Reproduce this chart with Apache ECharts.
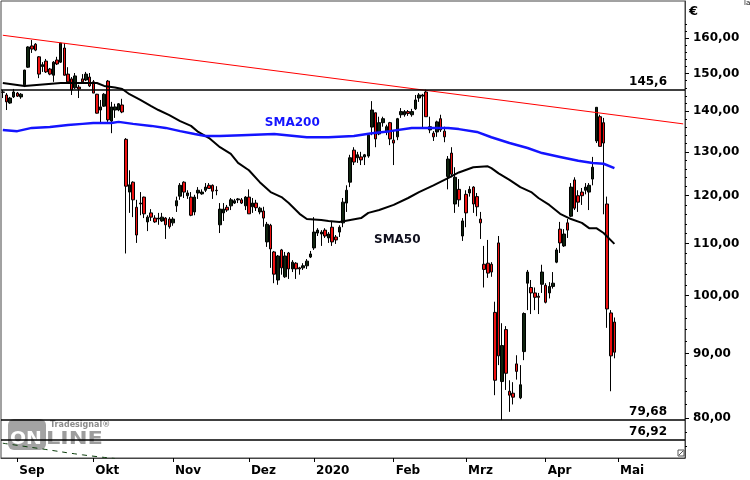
<!DOCTYPE html>
<html><head><meta charset="utf-8">
<script src="https://cdn.jsdelivr.net/npm/echarts@6/dist/echarts.min.js"></script>
<style>html,body{margin:0;padding:0;background:#fff}#c{width:750px;height:480px}</style>
</head><body><div id="c"></div>
<script>
// ---- categories: trading days (Xetra) ----
const firstDay = '2019-08-27';
const lastDay = '2020-05-28';
const holidays = ['2019-10-03','2019-12-24','2019-12-25','2019-12-26','2019-12-31','2020-01-01','2020-04-10','2020-04-13','2020-05-01'];
const monthNames = ['2020','Feb','Mrz','Apr','Mai','Jun','Jul','Aug','Sep','Okt','Nov','Dez'];
function buildDays() {
  const out = [];
  const d = new Date(firstDay + 'T00:00:00Z');
  const end = new Date(lastDay + 'T00:00:00Z');
  while (d <= end) {
    const s = d.toISOString().slice(0, 10);
    const wd = d.getUTCDay();
    if (wd !== 0 && wd !== 6 && holidays.indexOf(s) < 0) out.push(s);
    d.setUTCDate(d.getUTCDate() + 1);
  }
  return out;
}
const categories = buildDays();

// ---- candles: [open, close, low, high] ----
const ohlc = [
[145.0,144.9,143.4,145.5],[144.2,142.4,140.3,144.7],[142.1,143.4,141.9,143.7],[143.7,145.0,143.4,145.8],
[144.7,143.9,143.7,145.0],[143.7,144.4,143.2,144.7],[146.9,150.9,146.3,151.0],[151.7,157.4,151.5,157.6],
[157.7,156.8,155.7,159.4],[158.2,156.5,156.2,158.5],[154.6,149.8,148.7,154.8],[151.9,152.4,150.4,153.1],
[153.4,150.4,150.1,154.0],[151.2,149.8,149.5,151.5],[149.5,153.1,147.7,153.4],[153.7,152.6,152.3,154.6],
[153.1,158.5,152.9,158.6],[157.1,149.5,149.4,158.5],[149.8,147.7,147.4,151.7],[148.5,145.5,144.2,149.0],
[146.1,149.3,145.8,150.1],[146.3,145.8,143.4,146.9],[148.5,147.7,147.4,149.8],[148.2,149.8,147.9,150.4],
[149.0,146.6,146.3,150.1],[147.7,144.7,144.7,148.2],[144.4,139.5,139.4,144.5],[140.3,141.1,137.0,142.9],
[141.3,144.4,141.1,144.7],[147.9,137.8,137.3,148.2],[137.5,141.1,134.5,142.4],[140.3,141.1,138.3,141.9],
[140.3,141.9,140.0,142.1],[141.6,139.8,139.5,143.2],[133.0,122.1,108.0,133.3],[120.8,122.4,116.3,125.7],
[123.0,119.1,115.4,123.2],[117.5,111.7,110.1,119.1],[118.2,118.4,115.8,120.8],[119.7,116.1,115.2,119.8],
[114.4,115.4,112.5,115.8],[116.3,115.4,114.6,117.1],[115.2,114.4,114.2,115.8],[115.0,115.2,113.8,116.3],
[114.6,115.4,114.4,116.3],[115.2,113.8,110.9,115.4],[115.0,113.4,113.0,115.4],[114.2,115.0,113.6,115.4],
[117.8,118.9,116.5,119.8],[119.9,122.3,119.1,122.8],[123.0,120.8,119.5,123.2],[120.0,120.6,119.3,121.2],
[119.7,115.8,115.6,120.8],[116.5,119.7,115.8,120.2],[120.6,121.2,119.3,121.9],[120.4,120.8,120.2,121.4],
[121.2,121.9,120.8,122.8],[122.3,121.6,121.6,122.8],[122.3,121.0,119.3,122.5],[121.2,121.1,120.1,122.1],
[113.8,117.1,112.1,118.4],[116.3,117.1,114.6,118.4],[117.5,116.9,116.5,118.0],[117.8,119.1,116.9,119.5],
[118.4,118.9,118.2,119.3],[119.1,119.3,118.4,119.5],[119.1,118.4,118.2,119.5],[117.8,119.7,116.9,119.9],
[119.7,116.1,116.1,121.4],[117.6,118.4,116.3,119.5],[118.4,117.4,116.7,119.1],[116.5,117.3,116.0,117.6],
[116.7,115.2,113.4,117.6],[110.3,113.9,109.3,114.4],[113.7,108.9,105.2,114.0],[108.3,104.0,102.3,108.5],
[102.9,107.5,102.0,107.7],[108.7,105.2,103.9,108.9],[103.5,107.5,103.3,108.3],[108.1,105.0,103.1,108.3],
[105.0,106.3,104.4,106.7],[106.1,105.0,103.1,106.3],[105.2,105.0,103.9,105.4],[105.2,105.6,104.8,106.1],
[105.6,106.5,105.0,106.9],[107.3,107.9,107.1,108.5],[109.1,112.3,108.7,115.4],[112.1,112.7,111.5,113.1],
[111.9,112.3,109.5,112.7],[112.7,111.5,111.1,113.1],[111.1,111.9,110.1,112.3],[113.3,110.3,109.5,114.4],
[111.3,110.7,109.9,111.7],[112.3,113.3,111.3,113.7],[114.2,118.6,113.3,119.5],[118.4,121.2,116.5,122.3],
[123.0,128.6,121.9,129.3],[130.4,127.6,126.9,131.1],[128.6,129.3,127.4,130.0],[128.8,128.1,126.9,130.0],
[128.8,129.3,126.9,129.5],[129.0,134.0,128.6,134.5],[136.0,140.3,134.0,142.6],[139.6,133.1,131.1,139.6],
[134.3,137.1,134.0,138.6],[137.1,138.1,136.1,138.6],[134.8,136.1,134.0,136.6],[137.1,133.1,131.6,137.3],
[132.8,132.1,126.9,135.3],[133.6,138.1,132.8,138.3],[139.1,139.9,138.3,140.8],[139.1,139.9,138.6,140.3],
[139.9,139.4,138.8,140.3],[139.1,139.9,138.6,140.6],[140.6,142.9,140.3,144.2],[143.4,144.2,142.4,144.7],
[143.9,144.2,135.8,144.5],[145.0,138.6,138.6,145.6],[135.3,136.1,134.5,138.6],[134.5,133.6,132.6,135.0],
[134.8,137.3,133.6,137.6],[138.1,135.3,134.8,139.1],[135.0,133.6,132.3,136.1],[124.3,128.3,121.4,129.0],
[129.7,124.8,124.1,131.1],[118.2,124.1,116.3,126.4],[121.4,119.1,117.6,123.7],[111.5,114.6,110.5,115.2],
[120.3,116.3,113.3,121.2],[120.6,121.4,119.8,122.1],[121.9,118.2,116.3,122.1],[119.8,117.6,115.6,120.6],
[115.0,114.2,110.9,116.5],[105.9,104.9,101.5,109.5],[106.1,104.2,103.3,110.7],[105.9,104.4,103.5,106.3],
[97.0,85.7,83.4,98.9],[110.1,89.6,88.1,111.5],[85.5,91.3,79.7,95.1],[94.0,86.8,84.2,94.6],
[84.0,83.4,80.9,85.7],[83.7,83.1,82.0,85.4],[88.3,87.1,85.8,89.7],[83.0,85.0,82.8,88.1],
[90.3,96.8,88.9,97.0],[102.3,104.4,97.4,104.8],[101.5,100.5,96.7,102.9],[100.5,99.7,97.4,101.5],
[99.9,99.7,96.7,100.5],[102.1,104.4,100.5,105.8],[101.9,98.8,98.6,102.3],[100.5,101.7,99.5,102.5],
[101.7,102.3,101.3,104.4],[106.3,108.7,106.1,109.1],[112.9,110.1,108.1,114.4],[109.5,111.9,109.3,112.9],
[114.2,112.7,111.1,115.0],[115.6,121.9,115.4,122.8],[123.5,117.3,116.9,124.1],[120.0,118.6,116.5,121.2],
[120.8,120.0,118.0,121.7],[121.2,121.9,120.3,122.8],[120.8,122.3,116.9,122.8],[123.7,126.4,122.3,128.8],
[132.6,141.0,132.1,141.0],[138.6,131.3,131.3,139.1],[137.1,132.1,116.0,138.3],[118.2,97.6,94.3,119.8],
[96.9,89.6,84.0,97.4],[95.3,90.2,89.2,96.1]
];

// ---- indicator lines: [category index, value] ----
const sma50 = [[0,147.4],[6,146.6],[16,147.4],[26,147.4],[28,146.6],[31,146.2],[33,145.8],[35,144.4],[38,142.9],[41,141.3],[43,140.3],[46,139.0],[49,137.5],[52,136.3],[54,134.8],[57,133.3],[60,131.1],[63,129.5],[65,127.4],[68,125.7],[71,123.0],[74,120.8],[77,119.7],[79,118.4],[82,116.1],[84,115.0],[88,114.8],[90,114.6],[93,114.4],[96,114.8],[99,115.2],[101,116.3],[104,116.9],[108,118.0],[112,119.5],[115,120.8],[119,122.3],[123,123.9],[126,125.2],[130,126.4],[134,126.6],[135,126.2],[137,125.0],[140,123.5],[143,121.9],[146,120.8],[148,119.5],[151,118.0],[154,116.1],[157,115.0],[160,114.2],[162,113.1],[164,113.1],[166,112.1],[169,109.9]];
const sma200 = [[0,135.3],[4,135.0],[8,135.8],[13,136.0],[18,136.5],[22,136.8],[25,137.0],[30,137.0],[32,137.3],[36,136.8],[41,136.3],[45,135.8],[49,135.0],[53,134.3],[56,133.8],[60,133.8],[66,134.0],[75,134.3],[84,133.5],[90,133.5],[97,133.8],[102,134.5],[107,135.0],[113,135.8],[119,135.8],[123,135.8],[126,135.5],[131,134.8],[135,133.5],[140,132.1],[145,130.9],[149,129.7],[154,128.8],[159,127.9],[163,127.4],[166,127.2],[169,126.2]];
const trendLine = [[0,160.8],[188,136.8]];
const lowerDashed = [[0,76.4],[11,75.6],[22,74.8],[31,74.3]];
const levels = [145.6, 79.68, 76.92];
const levelLabels = ['145,6', '79,68', '76,92'];
const majorTicks = [80, 90, 100, 110, 120, 130, 140, 150, 160];
const minorTicks = [76,78,80,82,84,86,88,90,92,94,96,98,100,102,104,106,108,110,112,114,116,118,120,122,124,126,128,130,132,134,136,138,140,142,144,146,148,150,152,154,156,158,160,162,164];
const yMin = 74.37, yMax = 171.17;

const FONT = 'DejaVu Sans';
function isMonthStart(idx) {
  return idx > 0 && categories[idx].slice(0, 7) !== categories[idx - 1].slice(0, 7);
}
function monthLabel(v) {
  const m = parseInt(v.slice(5, 7), 10);
  return m === 1 ? v.slice(0, 4) : monthNames[m - 1];
}

const chart = echarts.init(document.getElementById('c'), null, {renderer: 'canvas'});
chart.setOption({
  animation: false,
  backgroundColor: '#fff',
  grid: {left: 1, right: 65, top: 1, bottom: 22, show: true, borderColor: '#444', borderWidth: 1},
  xAxis: {
    type: 'category', data: categories, boundaryGap: true,
    axisLine: {show: true, lineStyle: {color: '#444', width: 1}},
    axisTick: {show: true, alignWithLabel: true, interval: (i) => isMonthStart(i), length: 4, lineStyle: {color: '#000'}},
    axisLabel: {interval: (i) => isMonthStart(i), formatter: monthLabel, align: 'left', padding: [0, 0, 0, 2], margin: 7,
      fontFamily: FONT, fontWeight: 'bold', fontSize: 12, color: '#000'},
    splitLine: {show: false}
  },
  yAxis: [{
    type: 'log', logBase: 10, min: yMin, max: yMax, position: 'right',
    axisLine: {show: true, lineStyle: {color: '#444', width: 1}},
    axisTick: {show: true, customValues: majorTicks, length: 4, lineStyle: {color: '#000'}},
    axisLabel: {show: true, customValues: majorTicks, formatter: (v) => Number(v).toFixed(2).replace('.', ','), margin: 8,
      fontFamily: FONT, fontWeight: 'bold', fontSize: 12, color: '#000'},
    splitLine: {show: false}
  }, {
    type: 'log', logBase: 10, min: yMin, max: yMax, position: 'right',
    axisLine: {show: false},
    axisTick: {show: true, customValues: minorTicks, length: 2, lineStyle: {color: '#000'}},
    axisLabel: {show: false},
    splitLine: {show: false}
  }],
  series: [{
    type: 'candlestick', data: ohlc, barWidth: 3,
    itemStyle: {color: '#0f230f', color0: '#ee1111', borderColor: '#000', borderColor0: '#000', borderWidth: 1},
    markLine: {
      silent: true, symbol: ['none', 'none'], animation: false,
      lineStyle: {color: '#000', width: 1.5, type: 'solid'},
      label: {position: 'insideEndTop', distance: 2, padding: [0, 16, 0, 0], fontFamily: FONT, fontWeight: 'bold', fontSize: 12, color: '#000'},
      data: levels.map((v, i) => ({yAxis: v, label: {formatter: levelLabels[i]}}))
    }
  }, {
    type: 'line', data: sma50, showSymbol: false, symbol: 'none', lineStyle: {color: '#000', width: 2}, z: 3,
    markPoint: {symbol: 'rect', symbolSize: 1, itemStyle: {color: 'rgba(0,0,0,0)'},
      label: {show: true, position: 'inside', formatter: 'SMA50', fontFamily: FONT, fontWeight: 'bold', fontSize: 12, color: '#10101e'},
      data: [{coord: [109, 110.7]}]}
  }, {
    type: 'line', data: sma200, showSymbol: false, symbol: 'none', lineStyle: {color: '#1414ff', width: 2.5}, z: 3,
    markPoint: {symbol: 'rect', symbolSize: 1, itemStyle: {color: 'rgba(0,0,0,0)'},
      label: {show: true, position: 'inside', formatter: 'SMA200', fontFamily: FONT, fontWeight: 'bold', fontSize: 12, color: '#1414ff'},
      data: [{coord: [80, 137.0]}]}
  }, {
    type: 'line', data: trendLine, showSymbol: false, symbol: 'none', lineStyle: {color: '#ff0000', width: 1}, z: 3
  }, {
    type: 'line', data: lowerDashed, showSymbol: false, symbol: 'none', smooth: true, lineStyle: {color: '#0b3d0b', width: 1, type: [5, 5]}, z: 3
  }],
  graphic: [
    {type: 'rect', z: 0, shape: {x: 8, y: 419, width: 38, height: 31, r: 6}, style: {fill: '#8c8c8c', opacity: 0.8}},
    {type: 'text', z: 0, x: 10, y: 430, style: {text: 'ON', fill: '#fff', font: 'bold 18px "DejaVu Sans"'}, scaleX: 1.05},
    {type: 'text', z: 0, x: 46, y: 430, style: {text: 'LINE', fill: '#8c8c8c', opacity: 0.85, font: 'bold 18px "DejaVu Sans"'}, scaleX: 1.25},
    {type: 'text', z: 0, x: 50, y: 421, style: {text: 'Tradesignal\u00ae', fill: '#8c8c8c', font: 'bold 8px "DejaVu Sans"'}},
    {type: 'text', z: 5, x: 689, y: 5, style: {text: '\u20ac', fill: '#000', font: 'bold 13px "DejaVu Sans"'}},
    {type: 'text', z: 5, x: 744, y: 0, style: {text: 'la', fill: '#000', font: '7px "DejaVu Sans"'}},
    {type: 'rect', z: 5, shape: {x: 678, y: 450, width: 6, height: 6}, style: {fill: '#fff', stroke: '#555', lineWidth: 1}},
    {type: 'line', z: 5, shape: {x1: 679, y1: 455, x2: 683, y2: 451}, style: {stroke: '#555', lineWidth: 1}}
  ]
});
</script>
</body></html>
